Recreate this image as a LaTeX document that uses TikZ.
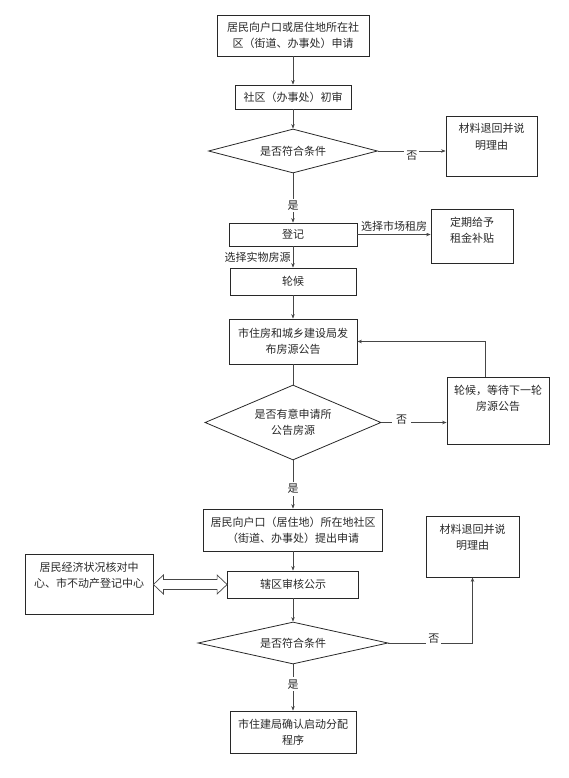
\documentclass[tikz,border=0pt]{standalone}
\usepackage{fontspec}
\setmainfont{Noto Sans CJK SC}
\usepackage{tikz}
\usetikzlibrary{shapes.geometric, arrows.meta, positioning, calc}
\definecolor{ink}{RGB}{40,40,40}
\definecolor{wire}{RGB}{70,70,70}
\newcommand{\topnote}[3]{\parbox[c][#2][t]{#1}{\centering\rule{0pt}{17pt}#3}}

\begin{document}
\begin{tikzpicture}[x=1pt, y=-1pt,
  box/.style={rectangle, draw=ink, line width=0.8pt, align=center, inner sep=2pt,
    font=\fontsize{11pt}{16pt}\selectfont, text=ink},
  note/.style={rectangle, draw=ink, line width=0.8pt, inner sep=0pt,
    font=\fontsize{11pt}{16pt}\selectfont, text=ink},
  cond/.style={diamond, draw=ink, line width=0.8pt, align=center, inner sep=1pt,
    font=\fontsize{11pt}{16pt}\selectfont, text=ink},
  arr/.style={-{Stealth[length=4.5pt, width=3.5pt]}, line width=0.6pt, color=wire},
  lnk/.style={line width=0.6pt, color=wire},
  tag/.style={font=\fontsize{11pt}{13pt}\selectfont, text=ink, fill=white, inner sep=2pt}
]
\useasboundingbox (0,0) rectangle (568,778);
% Application and first check
\node[box, minimum width=152pt, minimum height=41pt]
  at (293, 35.5) (apply) {居民向户口或居住地所在社\\区（街道、办事处）申请};
\node[box, minimum width=116pt, minimum height=24pt]
  at (293, 97) (first) {社区（办事处）初审};
\node[cond, minimum width=169pt, minimum height=44pt, aspect=3.8]
  at (293, 151) (check) {是否符合条件};
\node[note] at (491.5, 146) (back) {\topnote{91pt}{60pt}{材料退回并说\\明理由}};
% Registration
\node[box, minimum width=128pt, minimum height=23pt]
  at (293, 234.5) (enrol) {登记};
\node[note] at (472, 236) (rent) {\topnote{82pt}{54pt}{定期给予\\租金补贴}};
\node[box, minimum width=126pt, minimum height=27pt]
  at (293, 281.5) (queue) {轮候};
\node[box, minimum width=128pt, minimum height=45pt]
  at (293, 341.5) (notice) {市住房和城乡建设局发\\布房源公告};
\node[cond, minimum width=176pt, minimum height=75pt, aspect=2.35]
  at (293, 422.5) (want) {是否有意申请所\\公告房源};
\node[note] at (498, 410.5) (wait) {\topnote{102pt}{67pt}{轮候，等待下一轮\\房源公告}};
% Application for a listed house
\node[box, minimum width=179pt, minimum height=42pt]
  at (293, 530) (request) {居民向户口（居住地）所在地社区\\（街道、办事处）提出申请};
\node[box, minimum width=131pt, minimum height=27pt]
  at (293, 584.5) (review) {辖区审核公示};
\node[note] at (89, 584.5) (verify) {\topnote{128pt}{60pt}{居民经济状况核对中\\心、市不动产登记中心}};
\node[cond, minimum width=190pt, minimum height=42pt, aspect=4.5]
  at (293, 643) (recheck) {是否符合条件};
\node[note] at (472.5, 546.5) (back2) {\topnote{93pt}{61pt}{材料退回并说\\明理由}};
\node[box, minimum width=126pt, minimum height=42pt]
  at (293, 732) (start) {市住建局确认启动分配\\程序};
% Connectors
\draw[arr] (apply) -- (first);
\draw[arr] (first) -- (check);
\draw[arr] (check.east) -- (check.east -| back.west)
  node[tag, midway, yshift=-5pt] {否};
\draw[arr] (check) -- (enrol) node[tag, pos=0.65] {是};
\draw[arr] (enrol.east) -- (enrol.east -| rent.west)
  node[tag, midway, above=1pt] {选择市场租房};
\draw[arr] (enrol) -- (queue) node[tag, midway, left=0pt, fill=none] {选择实物房源};
\draw[arr] (queue) -- (notice);
\draw[lnk] (notice) -- (want);
\draw[arr] (want.east) -- (want.east -| wait.west)
  node[tag, pos=0.31, yshift=3pt, inner xsep=4pt] {否};
\draw[arr] ([xshift=-13pt]wait.north) |- (notice.east);
\draw[arr] (want) -- (request) node[tag, pos=0.59] {是};
\draw[arr] (request) -- (review);
% Two-way hollow arrow
\draw[color=wire, line width=0.7pt, fill=white]
  (verify.east) -- ++(10,-9.5) -- ++(0,4.5) -- ($(review.west)+(-10,-5)$)
  -- ++(0,-4.5) -- (review.west) -- ++(-10,9.5) -- ++(0,-4.5)
  -- ($(verify.east)+(10,5)$) -- ++(0,4.5) -- cycle;
\draw[arr] (review) -- (recheck);
\draw[arr] (recheck.east) -| (back2.south) node[tag, pos=0.27, yshift=4pt] {否};
\draw[arr] (recheck) -- (start) node[tag, pos=0.43] {是};
\end{tikzpicture}
\end{document}
